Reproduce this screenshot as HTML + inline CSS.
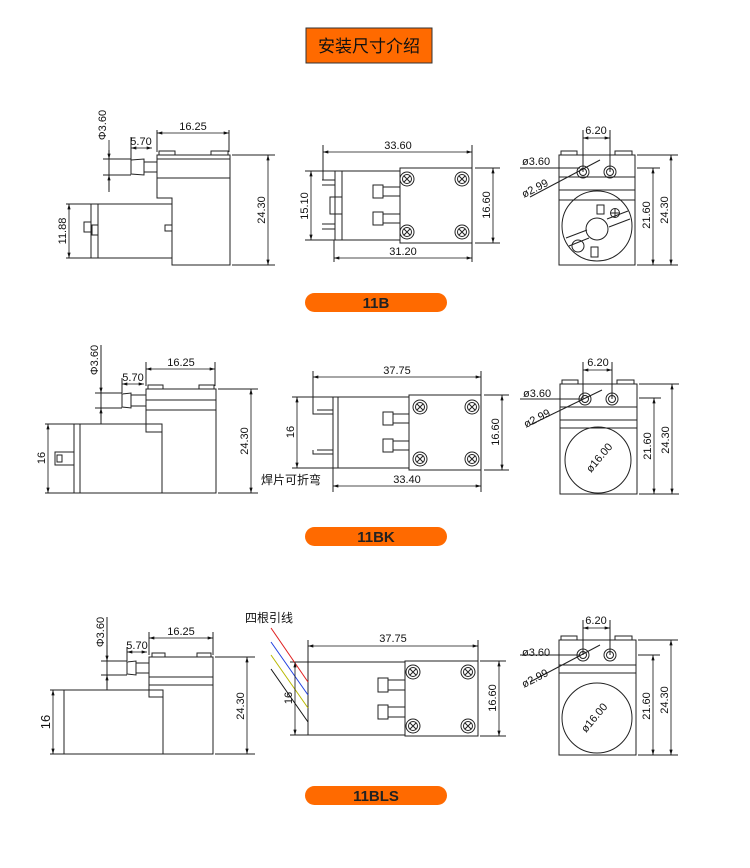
<!DOCTYPE html>
<html><head><meta charset="utf-8"><style>
html,body{margin:0;padding:0;background:#fff;}
svg{display:block;}
text{font-family:"Liberation Sans","Noto Sans CJK SC",sans-serif;fill:#111;}
</style></head><body>
<svg width="750" height="868" viewBox="0 0 750 868" xmlns="http://www.w3.org/2000/svg">
<defs>
<marker id="a" viewBox="0 0 10 6" refX="10" refY="3" markerWidth="7" markerHeight="4" orient="auto-start-reverse"><path d="M0,0L10,3L0,6z" fill="#111"/></marker>
<g id="s" fill="none" stroke="#222" stroke-width="1"><circle r="7"/><circle r="4.5"/><path d="M-3,-3L3,3M-3,3L3,-3"/></g>
</defs>
<!-- Title -->
<rect x="306" y="28" width="126" height="35" fill="#ff6a00" stroke="#333" stroke-width="1"/>
<text x="369" y="52" font-size="17" text-anchor="middle">安装尺寸介绍</text>
<!-- Pills -->
<rect x="305" y="293" width="142" height="19" rx="9.5" fill="#ff6a00"/>
<text x="376" y="308" font-size="15" text-anchor="middle" font-weight="bold" style="fill:#222">11B</text>
<rect x="305" y="527" width="142" height="19" rx="9.5" fill="#ff6a00"/>
<text x="376" y="542" font-size="15" text-anchor="middle" font-weight="bold" style="fill:#222">11BK</text>
<rect x="305" y="786" width="142" height="19" rx="9.5" fill="#ff6a00"/>
<text x="376" y="801" font-size="15" text-anchor="middle" font-weight="bold" style="fill:#222">11BLS</text>

<g fill="none" stroke="#222" stroke-width="1">
<!-- ===== Section 1 side ===== -->
<path d="M159,155v-4h16v4M211,155v-4h17v4"/>
<path d="M157,155H230V265H172V198H157Z"/>
<path d="M157,159H230M157,178H230"/>
<rect x="91" y="204" width="81" height="54"/>
<path d="M98,204V258M98,225h-6v10h6M165,225h7v6h-7z"/>
<rect x="84" y="222" width="7" height="10"/>
<path d="M131,160L144,159V175L131,174ZM144,162H157M144,172H157"/>
<path d="M157,130V152M229,130V152M131,137V160M103,159H131M103,175H131M109,150V192M232,155H275M232,265H275M66,204H91M66,258H91"/>
<!-- ===== Section 1 front ===== -->
<rect x="335" y="171" width="65" height="69"/>
<path d="M342,171V240"/>
<rect x="400" y="168" width="72" height="75"/>
<rect x="373" y="185" width="10" height="13"/><path d="M383,187H400M383,196H400"/>
<rect x="373" y="212" width="10" height="13"/><path d="M383,214H400M383,223H400"/>
<path d="M322,180h13M322,185h13M322,224h13M322,229h13M330,197h12v17h-12z"/>
<path d="M323,145V180M472,145V168M334,240V262M472,243V262M305,171H335M305,240H335M475,168H500M475,243H500"/>
<!-- ===== Section 1 end ===== -->
<path d="M561,155v-4h16v4M615,155v-4h17v4"/>
<rect x="559" y="155" width="76" height="110"/>
<path d="M559,177H635M559,190H635M559,200H635"/>
<circle cx="583" cy="172" r="6"/><circle cx="583" cy="172" r="3.5"/>
<circle cx="610" cy="172" r="6"/><circle cx="610" cy="172" r="3.5"/>
<circle cx="597" cy="226" r="35"/>
<circle cx="597" cy="229" r="11"/>
<circle cx="578" cy="246" r="6"/>
<path d="M566,238L587,230M569,246L589,238M607,219L628,211M609,227L630,219"/>
<rect x="597" y="205" width="7" height="9"/><rect x="591" y="247" width="7" height="10"/>
<circle cx="615" cy="213" r="4.5"/><path d="M610.5,213h9M615,208.5v9"/>
<path d="M583,130V172M610,130V172M637,155H678M637,168H660M637,265H678M520,168H580M530,197L600,160"/>
<!-- ===== Section 2 side ===== -->
<path d="M148,389v-4h15v4M199,389v-4h15v4"/>
<path d="M146,389H216V493H162V432H146Z"/>
<path d="M146,400H216M146,410H216"/>
<rect x="74" y="424" width="88" height="69"/>
<path d="M80,424V493"/>
<rect x="55" y="452" width="19" height="13"/><path d="M57,455h5v7h-5z"/>
<path d="M122,394L131,393V408L122,407ZM131,395H146M131,406H146"/>
<path d="M146,362V386M215,362V386M122,378V393M95,393H122M95,408H122M101,345V424M218,389H258M218,493H258M45,424H74M45,493H74"/>
<!-- ===== Section 2 front ===== -->
<rect x="333" y="397" width="76" height="71"/>
<path d="M338,397V468"/>
<rect x="409" y="395" width="72" height="75"/>
<rect x="383" y="412" width="10" height="13"/><path d="M393,414H409M393,423H409"/>
<rect x="383" y="439" width="10" height="13"/><path d="M393,441H409M393,450H409"/>
<path d="M313,371V414H333M317,410H333M313,450V454H333M317,450H333"/>
<path d="M481,371V395M333,468V492M481,470V492M292,397H333M292,468H333M484,395H509M484,470H509"/>
<!-- ===== Section 2 end ===== -->
<path d="M562,384v-4h16v4M617,384v-4h17v4"/>
<rect x="560" y="384" width="77" height="110"/>
<path d="M560,407H637M560,420H637M560,428H637"/>
<circle cx="585" cy="399" r="6"/><circle cx="585" cy="399" r="3.5"/>
<circle cx="612" cy="399" r="6"/><circle cx="612" cy="399" r="3.5"/>
<circle cx="598" cy="460" r="33"/>
<path d="M583,362V399M612,362V399M639,384H679M639,398H661M639,494H679M520,399H582M530,425L602,390"/>
<!-- ===== Section 3 side ===== -->
<path d="M152,657v-4h13v4M197,657v-4h14v4"/>
<path d="M149,657H213V754H163V697H149Z"/>
<path d="M149,677H213M149,685H213"/>
<rect x="64" y="690" width="99" height="64"/>
<path d="M127,662L136,661V675L127,674ZM136,663H149M136,673H149"/>
<path d="M149,632V655M213,632V655M127,647V661M101,661H127M101,675H127M107,617V690M215,657H255M215,754H255M50,690H64M50,754H64"/>
<!-- ===== Section 3 front ===== -->
<rect x="308" y="662" width="97" height="73"/>
<rect x="405" y="661" width="73" height="75"/>
<rect x="378" y="678" width="10" height="14"/><path d="M388,680H405M388,690H405"/>
<rect x="378" y="705" width="10" height="14"/><path d="M388,707H405M388,717H405"/>
<path d="M308,640V662M478,640V661M290,662H308M290,735H308M480,661H506M480,736H506"/>
<!-- ===== Section 3 end ===== -->
<path d="M561,640v-4h16v4M615,640v-4h17v4"/>
<rect x="559" y="640" width="77" height="115"/>
<path d="M559,665H636M559,673H636"/>
<circle cx="583" cy="655" r="6"/><circle cx="583" cy="655" r="3.5"/>
<circle cx="610" cy="655" r="6"/><circle cx="610" cy="655" r="3.5"/>
<circle cx="597" cy="718" r="35"/>
<path d="M583,620V655M610,620V655M638,640H678M638,655H660M638,755H678M520,655H580M530,682L600,645"/>
</g>

<!-- wires -->
<path d="M271,628L308,682" stroke="#e02020" stroke-width="1"/>
<path d="M271,642L308,695" stroke="#2040e0" stroke-width="1"/>
<path d="M271,655L308,708" stroke="#b8b800" stroke-width="1"/>
<path d="M271,669L308,722" stroke="#111" stroke-width="1"/>

<!-- screws -->
<use href="#s" x="407" y="179"/><use href="#s" x="462" y="179"/><use href="#s" x="407" y="232"/><use href="#s" x="462" y="232"/>
<use href="#s" x="420" y="407"/><use href="#s" x="472" y="407"/><use href="#s" x="420" y="459"/><use href="#s" x="472" y="459"/>
<use href="#s" x="413" y="672"/><use href="#s" x="468" y="672"/><use href="#s" x="413" y="726"/><use href="#s" x="468" y="726"/>

<!-- dimension lines with arrows -->
<g stroke="#111" stroke-width="0.8" marker-start="url(#a)" marker-end="url(#a)">
<line x1="157" y1="133" x2="229" y2="133"/>
<line x1="131" y1="148" x2="152" y2="148"/>
<line x1="69" y1="204" x2="69" y2="258"/>
<line x1="268" y1="155" x2="268" y2="265"/>
<line x1="323" y1="152" x2="472" y2="152"/>
<line x1="311" y1="171" x2="311" y2="240"/>
<line x1="493" y1="168" x2="493" y2="243"/>
<line x1="334" y1="258" x2="472" y2="258"/>
<line x1="583" y1="138" x2="610" y2="138"/>
<line x1="653" y1="168" x2="653" y2="265"/>
<line x1="671" y1="155" x2="671" y2="265"/>

<line x1="146" y1="369" x2="215" y2="369"/>
<line x1="122" y1="384" x2="144" y2="384"/>
<line x1="48" y1="424" x2="48" y2="493"/>
<line x1="251" y1="389" x2="251" y2="493"/>
<line x1="313" y1="377" x2="481" y2="377"/>
<line x1="297" y1="397" x2="297" y2="468"/>
<line x1="502" y1="395" x2="502" y2="470"/>
<line x1="333" y1="486" x2="481" y2="486"/>
<line x1="583" y1="370" x2="612" y2="370"/>
<line x1="654" y1="398" x2="654" y2="494"/>
<line x1="672" y1="384" x2="672" y2="494"/>

<line x1="149" y1="638" x2="213" y2="638"/>
<line x1="127" y1="652" x2="147" y2="652"/>
<line x1="53" y1="690" x2="53" y2="754"/>
<line x1="247" y1="657" x2="247" y2="754"/>
<line x1="308" y1="646" x2="478" y2="646"/>
<line x1="295" y1="662" x2="295" y2="735"/>
<line x1="499" y1="661" x2="499" y2="736"/>
<line x1="583" y1="628" x2="610" y2="628"/>
<line x1="653" y1="655" x2="653" y2="755"/>
<line x1="671" y1="640" x2="671" y2="755"/>
</g>
<g stroke="#111" stroke-width="0.8" marker-end="url(#a)">
<line x1="109" y1="140" x2="109" y2="159"/><line x1="109" y1="190" x2="109" y2="175"/>
<line x1="101" y1="380" x2="101" y2="393"/><line x1="101" y1="420" x2="101" y2="408"/>
<line x1="107" y1="645" x2="107" y2="661"/><line x1="107" y1="688" x2="107" y2="675"/>
</g>

<!-- texts -->
<g font-size="11">
<text x="193" y="130" text-anchor="middle">16.25</text>
<text x="141" y="145" text-anchor="middle">5.70</text>
<text transform="translate(106,125) rotate(-90)" text-anchor="middle">Φ3.60</text>
<text transform="translate(66,231) rotate(-90)" text-anchor="middle">11.88</text>
<text transform="translate(265,210) rotate(-90)" text-anchor="middle">24.30</text>
<text x="398" y="149" text-anchor="middle">33.60</text>
<text transform="translate(308,206) rotate(-90)" text-anchor="middle">15.10</text>
<text transform="translate(490,205) rotate(-90)" text-anchor="middle">16.60</text>
<text x="403" y="255" text-anchor="middle">31.20</text>
<text x="596" y="134" text-anchor="middle">6.20</text>
<text x="522" y="165">ø3.60</text>
<text transform="translate(524,198) rotate(-27)">ø2.99</text>
<text transform="translate(650,215) rotate(-90)" text-anchor="middle">21.60</text>
<text transform="translate(668,210) rotate(-90)" text-anchor="middle">24.30</text>

<text x="181" y="366" text-anchor="middle">16.25</text>
<text x="133" y="381" text-anchor="middle">5.70</text>
<text transform="translate(98,360) rotate(-90)" text-anchor="middle">Φ3.60</text>
<text transform="translate(45,458) rotate(-90)" text-anchor="middle">16</text>
<text transform="translate(248,441) rotate(-90)" text-anchor="middle">24.30</text>
<text x="397" y="374" text-anchor="middle">37.75</text>
<text transform="translate(294,432) rotate(-90)" text-anchor="middle">16</text>
<text transform="translate(499,432) rotate(-90)" text-anchor="middle">16.60</text>
<text x="407" y="483" text-anchor="middle">33.40</text>
<text x="261" y="484" font-size="12">焊片可折弯</text>
<text x="598" y="366" text-anchor="middle">6.20</text>
<text x="523" y="397">ø3.60</text>
<text transform="translate(526,428) rotate(-27)">ø2.99</text>
<text transform="translate(602,460) rotate(-50)" text-anchor="middle">ø16.00</text>
<text transform="translate(651,446) rotate(-90)" text-anchor="middle">21.60</text>
<text transform="translate(669,440) rotate(-90)" text-anchor="middle">24.30</text>

<text x="181" y="635" text-anchor="middle">16.25</text>
<text x="137" y="649" text-anchor="middle">5.70</text>
<text transform="translate(104,632) rotate(-90)" text-anchor="middle">Φ3.60</text>
<text transform="translate(50,722) rotate(-90)" text-anchor="middle" font-size="13">16</text>
<text transform="translate(244,706) rotate(-90)" text-anchor="middle">24.30</text>
<text x="245" y="622" font-size="12">四根引线</text>
<text x="393" y="642" text-anchor="middle">37.75</text>
<text transform="translate(292,698) rotate(-90)" text-anchor="middle">16</text>
<text transform="translate(496,698) rotate(-90)" text-anchor="middle">16.60</text>
<text x="596" y="624" text-anchor="middle">6.20</text>
<text x="522" y="656">ø3.60</text>
<text transform="translate(524,688) rotate(-27)">ø2.99</text>
<text transform="translate(597,720) rotate(-50)" text-anchor="middle">ø16.00</text>
<text transform="translate(650,706) rotate(-90)" text-anchor="middle">21.60</text>
<text transform="translate(668,700) rotate(-90)" text-anchor="middle">24.30</text>
</g>
</svg>
</body></html>
